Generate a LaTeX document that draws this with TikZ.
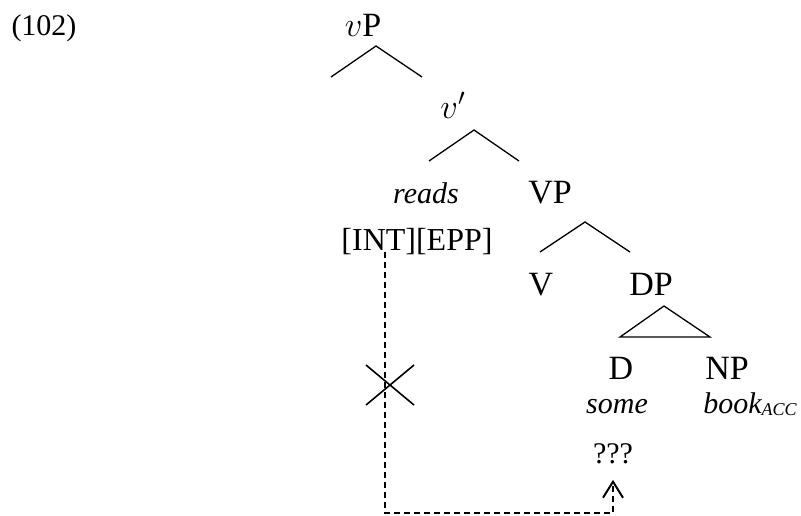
\documentclass[tikz,border=0pt]{standalone}
\usepackage{fontspec}
\setmainfont{Liberation Serif}
\usetikzlibrary{arrows.meta}

\begin{document}
\begin{tikzpicture}[x=0.5pt, y=-0.5pt,
    cat/.style={anchor=base, inner sep=0pt, font=\fontsize{17}{20}\selectfont},
    lex/.style={anchor=base, inner sep=0pt, font=\fontsize{15}{18}\selectfont},
    branch/.style={line width=0.65pt},
    agree/.style={line width=0.75pt, dash pattern=on 3pt off 2pt,
                  -{Straight Barb[length=8pt, width=10pt, line width=1pt]}}]
\useasboundingbox (0,0) rectangle (801,515);

% Example number
\node (ex) [lex] at (44,35) {(102)};

% Projections
\node (vP)   [cat] at (363,36)  {$v$P};
\node (vbar) [cat] at (453,118) {$v'$};
\node (VP)   [cat] at (550,203) {VP};
\node (V)    [cat] at (541,295) {V};
\node (DP)   [cat] at (651,295) {DP};
\node (D)    [cat] at (621,379) {D};
\node (NP)   [cat] at (727,379) {NP};

% Lexical material
\node (reads) [lex] at (426,203) {\textit{reads}};
\node (feat)  [lex, font=\fontsize{16}{19}\selectfont] at (417,250) {[INT][EPP]};
\node (some)  [lex] at (617,413) {\textit{some}};
\node (book)  [lex] at (750,413)
    {\textit{book\raisebox{-1pt}{\fontsize{9}{11}\selectfont ACC}}};
\node (q)     [lex] at (613,463) {???};

% Branches
\coordinate (vPtop) at (376,46);
\coordinate (vbartop) at (474,130);
\coordinate (VPtop) at (585,222);
\draw [branch] (331,77) -- (vPtop) -- (422,77);
\draw [branch] (429,161) -- (vbartop) -- (519,161);
\draw [branch] (540,252) -- (VPtop) -- (630,252);

% DP as a triangle
\coordinate (DPtop) at (664,306);
\draw [branch] (DPtop) -- (620,337) -- (710,337) -- cycle;

% Failed Agree path
\coordinate (probe) at (385,252);
\coordinate (floor) at (0,513);
\draw [agree] (probe) -- (probe |- floor) -| ([yshift=-8pt]q.south);

% Blocking cross
\coordinate (block) at (390,385);
\draw [branch, line width=0.8pt] (block) ++(-24,-20) -- ++(48,40);
\draw [branch, line width=0.8pt] (block) ++(24,-20) -- ++(-48,40);
\end{tikzpicture}
\end{document}
